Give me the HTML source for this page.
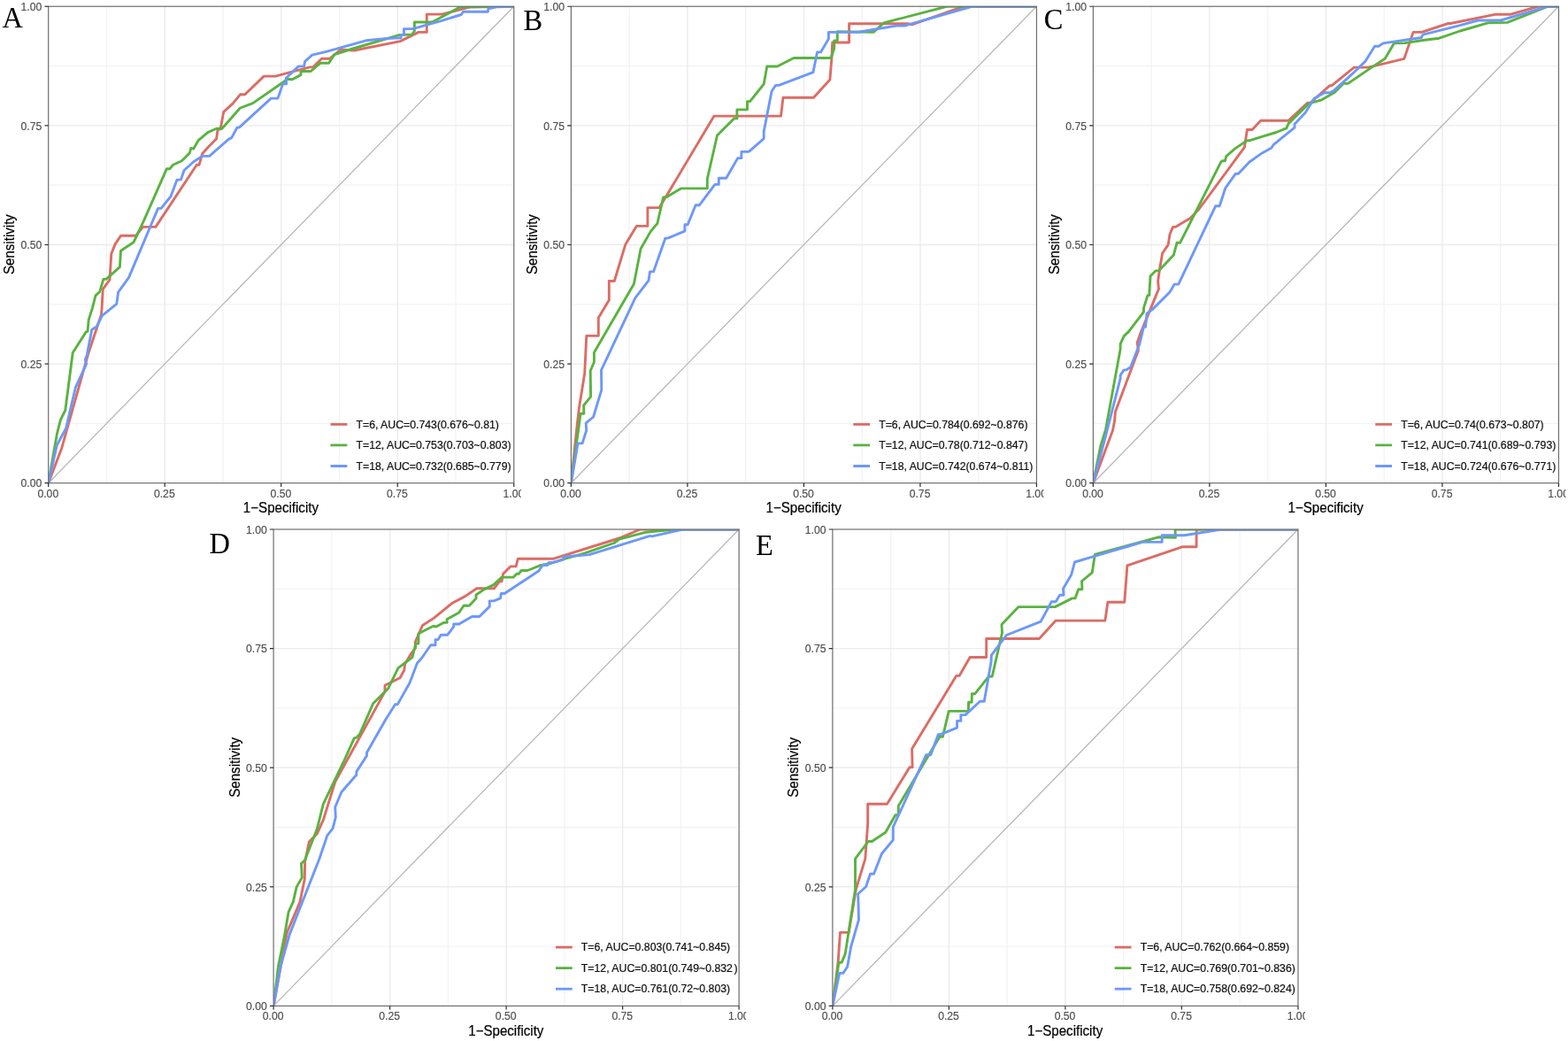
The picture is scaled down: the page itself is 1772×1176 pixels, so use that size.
<!DOCTYPE html>
<html><head><meta charset="utf-8"><title>ROC</title>
<style>
html,body{margin:0;padding:0;background:#fff;}
svg{display:block;}
.tk{font-family:"Liberation Sans",Arial,sans-serif;font-size:12.2px;fill:#4D4D4D;stroke:#4D4D4D;stroke-width:0.15px;}
.tt{font-family:"Liberation Sans",Arial,sans-serif;font-size:15.1px;fill:#000;stroke:#000;stroke-width:0.2px;}
.lg{font-family:"Liberation Sans",Arial,sans-serif;font-size:12.3px;fill:#111;stroke:#111;stroke-width:0.22px;}
.lt{font-family:"Liberation Serif","Times New Roman",serif;font-size:33.5px;fill:#000;}
</style></head><body>
<svg width="1772" height="1176" viewBox="0 0 1772 1176">
<rect width="1772" height="1176" fill="#fff"/>

<defs>
<clipPath id="cA"><rect x="-5.3" y="-2.75" width="594.05" height="588.45"/></clipPath>
<clipPath id="pA"><rect x="54.7" y="7.25" width="526.05" height="538.45"/></clipPath>
<clipPath id="cB"><rect x="585.4" y="-2.75" width="594.05" height="588.45"/></clipPath>
<clipPath id="pB"><rect x="645.4" y="7.25" width="526.05" height="538.45"/></clipPath>
<clipPath id="cC"><rect x="1175.4" y="-2.75" width="594.05" height="588.45"/></clipPath>
<clipPath id="pC"><rect x="1235.4" y="7.25" width="526.05" height="538.45"/></clipPath>
<clipPath id="cD"><rect x="249.1" y="588" width="594.05" height="588.4"/></clipPath>
<clipPath id="pD"><rect x="309.1" y="598" width="526.05" height="538.4"/></clipPath>
<clipPath id="cE"><rect x="880.9" y="588" width="594.05" height="588.4"/></clipPath>
<clipPath id="pE"><rect x="940.9" y="598" width="526.05" height="538.4"/></clipPath>
</defs>
<g clip-path="url(#cA)">
<line x1="120.46" y1="7.25" x2="120.46" y2="545.7" stroke="#F3F3F3" stroke-width="1.3"/>
<line x1="54.7" y1="478.39" x2="580.75" y2="478.39" stroke="#F3F3F3" stroke-width="1.3"/>
<line x1="251.97" y1="7.25" x2="251.97" y2="545.7" stroke="#F3F3F3" stroke-width="1.3"/>
<line x1="54.7" y1="343.78" x2="580.75" y2="343.78" stroke="#F3F3F3" stroke-width="1.3"/>
<line x1="383.48" y1="7.25" x2="383.48" y2="545.7" stroke="#F3F3F3" stroke-width="1.3"/>
<line x1="54.7" y1="209.17" x2="580.75" y2="209.17" stroke="#F3F3F3" stroke-width="1.3"/>
<line x1="514.99" y1="7.25" x2="514.99" y2="545.7" stroke="#F3F3F3" stroke-width="1.3"/>
<line x1="54.7" y1="74.56" x2="580.75" y2="74.56" stroke="#F3F3F3" stroke-width="1.3"/>
<line x1="186.21" y1="7.25" x2="186.21" y2="545.7" stroke="#EBEBEB" stroke-width="1.4"/>
<line x1="54.7" y1="411.09" x2="580.75" y2="411.09" stroke="#EBEBEB" stroke-width="1.4"/>
<line x1="317.72" y1="7.25" x2="317.72" y2="545.7" stroke="#EBEBEB" stroke-width="1.4"/>
<line x1="54.7" y1="276.48" x2="580.75" y2="276.48" stroke="#EBEBEB" stroke-width="1.4"/>
<line x1="449.24" y1="7.25" x2="449.24" y2="545.7" stroke="#EBEBEB" stroke-width="1.4"/>
<line x1="54.7" y1="141.86" x2="580.75" y2="141.86" stroke="#EBEBEB" stroke-width="1.4"/>
<line x1="54.7" y1="545.7" x2="580.75" y2="7.25" stroke="#B8B8B8" stroke-width="1.3"/>
<g clip-path="url(#pA)" fill="none" stroke-width="2.9" stroke-linejoin="round" stroke-linecap="butt">
<path d="M54.7 545.7 L69.7 506.4 L99.6 400 L114.5 355.2 L115.1 348.1 L116.3 326.7 L124 316 L125.8 286.8 L130 276.1 L136.5 266.3 L153.4 266.3 L161.6 256.4 L175.9 256.4 L222.3 186.3 L225 186.3 L228.6 173.75 L235.7 165.7 L244.6 156.8 L246.1 146.1 L249.1 146.1 L252.7 126.4 L263.4 116.6 L271.4 106.8 L276.8 106.8 L298.2 86.1 L311.4 86.1 L328.8 81.3 L350.2 75.9 L353.8 75.9 L363.5 66.2 L372.7 66.2 L384.9 56 L400.2 57 L452.3 46.6 L473 36.4 L482.3 36.4 L482.3 16.1 L499.3 16.1 L532.3 7.7 L580.75 7.25" stroke="#DC6C64"/>
<path d="M54.7 545.7 L64.3 490.7 L68.4 474.4 L73.8 463.5 L82.2 398.5 L97.3 374.9 L99 374.3 L100.2 361.2 L104.4 348.1 L108 333.8 L112.7 329.6 L116.9 315.4 L119.9 315.4 L135.4 301.7 L136.5 283.2 L150.9 273.75 L161.6 251.4 L188.4 190.7 L192 190.7 L195.5 186.25 L205.4 181.8 L214.3 172.9 L215.7 167.5 L218.75 168 L224.1 158.6 L234.8 149.6 L244.6 145.2 L250.9 145.2 L271.4 122 L285.7 116.6 L321.6 91.7 L325.2 89.2 L330.3 89.7 L340 84.6 L340 80.5 L351.2 80.5 L361.9 71.3 L371.6 71.3 L377.8 61.6 L397.1 55.5 L451.9 39.4 L465.4 39 L468.4 35 L468.4 25 L488.3 25 L519.6 8.1 L580.75 7.25" stroke="#59B340"/>
<path d="M54.7 545.7 L64.3 503 L74.5 484 L85.4 437.7 L97.65 411.1 L96.3 406.3 L98.3 400.9 L103.8 372.5 L109.2 368.9 L115.7 356.4 L131.8 343.3 L133.6 330.2 L145.5 313.6 L178.6 235.4 L182.1 235.4 L192.9 222 L200 203.2 L204.5 202.9 L208 192.5 L218.75 182.7 L228.6 176.4 L236.6 176.4 L258.9 156.8 L261.6 155.9 L267.9 144.3 L270.5 143.9 L306.3 111.1 L314 111.1 L319.6 94.8 L323.7 94.8 L323.2 88.2 L337.4 74.9 L343.6 74.9 L344.6 69.3 L352.8 62.1 L369.6 58.1 L413.5 45.8 L440 43.2 L453.1 42.8 L453.1 39.4 L456.5 39.4 L456.5 32.6 L466.2 32.6 L499.3 23.3 L521.3 16.5 L523.4 13.2 L551.3 13.2 L551.8 9.8 L562.8 7.7 L580.75 7.25" stroke="#6D98FA"/>
</g>
<rect x="54.7" y="7.25" width="526.05" height="538.45" fill="none" stroke="#6E6E6E" stroke-width="1.2"/>
<line x1="50.5" y1="545.7" x2="54.7" y2="545.7" stroke="#2B2B2B" stroke-width="1.2"/>
<line x1="54.7" y1="545.7" x2="54.7" y2="549.9" stroke="#2B2B2B" stroke-width="1.2"/>
<line x1="50.5" y1="411.09" x2="54.7" y2="411.09" stroke="#2B2B2B" stroke-width="1.2"/>
<line x1="186.21" y1="545.7" x2="186.21" y2="549.9" stroke="#2B2B2B" stroke-width="1.2"/>
<line x1="50.5" y1="276.48" x2="54.7" y2="276.48" stroke="#2B2B2B" stroke-width="1.2"/>
<line x1="317.72" y1="545.7" x2="317.72" y2="549.9" stroke="#2B2B2B" stroke-width="1.2"/>
<line x1="50.5" y1="141.86" x2="54.7" y2="141.86" stroke="#2B2B2B" stroke-width="1.2"/>
<line x1="449.24" y1="545.7" x2="449.24" y2="549.9" stroke="#2B2B2B" stroke-width="1.2"/>
<line x1="50.5" y1="7.25" x2="54.7" y2="7.25" stroke="#2B2B2B" stroke-width="1.2"/>
<line x1="580.75" y1="545.7" x2="580.75" y2="549.9" stroke="#2B2B2B" stroke-width="1.2"/>
<text class="tk" transform="translate(47.3 550.4) scale(1 1.06)" text-anchor="end">0.00</text>
<text class="tk" transform="translate(54.3 561.5) scale(1 1.06)" text-anchor="middle">0.00</text>
<text class="tk" transform="translate(47.3 415.79) scale(1 1.06)" text-anchor="end">0.25</text>
<text class="tk" transform="translate(185.81 561.5) scale(1 1.06)" text-anchor="middle">0.25</text>
<text class="tk" transform="translate(47.3 281.18) scale(1 1.06)" text-anchor="end">0.50</text>
<text class="tk" transform="translate(317.32 561.5) scale(1 1.06)" text-anchor="middle">0.50</text>
<text class="tk" transform="translate(47.3 146.56) scale(1 1.06)" text-anchor="end">0.75</text>
<text class="tk" transform="translate(448.84 561.5) scale(1 1.06)" text-anchor="middle">0.75</text>
<text class="tk" transform="translate(47.3 11.95) scale(1 1.06)" text-anchor="end">1.00</text>
<text class="tk" transform="translate(580.35 561.5) scale(1 1.06)" text-anchor="middle">1.00</text>
<text class="tt" transform="translate(317.42 579) scale(1 1.04)" text-anchor="middle">1−Specificity</text>
<text class="tt" transform="translate(16.1 276.08) rotate(-90) scale(1 1.04)" text-anchor="middle">Sensitivity</text>
<line x1="373.55" y1="479.4" x2="392.35" y2="479.4" stroke="#DC6C64" stroke-width="2.8"/>
<text class="lg" transform="translate(402.45 483.6) scale(1 1.04)">T=6, AUC=0.743(0.676~0.81)</text>
<line x1="373.55" y1="502.9" x2="392.35" y2="502.9" stroke="#59B340" stroke-width="2.8"/>
<text class="lg" transform="translate(402.45 507.1) scale(1 1.04)">T=12, AUC=0.753(0.703~0.803)</text>
<line x1="373.55" y1="526.5" x2="392.35" y2="526.5" stroke="#6D98FA" stroke-width="2.8"/>
<text class="lg" transform="translate(402.45 530.7) scale(1 1.04)">T=18, AUC=0.732(0.685~0.779)</text>
</g>
<text class="lt" transform="translate(2.4 31.3) scale(0.97 1.035)">A</text>
<g clip-path="url(#cB)">
<line x1="711.16" y1="7.25" x2="711.16" y2="545.7" stroke="#F3F3F3" stroke-width="1.3"/>
<line x1="645.4" y1="478.39" x2="1171.45" y2="478.39" stroke="#F3F3F3" stroke-width="1.3"/>
<line x1="842.67" y1="7.25" x2="842.67" y2="545.7" stroke="#F3F3F3" stroke-width="1.3"/>
<line x1="645.4" y1="343.78" x2="1171.45" y2="343.78" stroke="#F3F3F3" stroke-width="1.3"/>
<line x1="974.18" y1="7.25" x2="974.18" y2="545.7" stroke="#F3F3F3" stroke-width="1.3"/>
<line x1="645.4" y1="209.17" x2="1171.45" y2="209.17" stroke="#F3F3F3" stroke-width="1.3"/>
<line x1="1105.69" y1="7.25" x2="1105.69" y2="545.7" stroke="#F3F3F3" stroke-width="1.3"/>
<line x1="645.4" y1="74.56" x2="1171.45" y2="74.56" stroke="#F3F3F3" stroke-width="1.3"/>
<line x1="776.91" y1="7.25" x2="776.91" y2="545.7" stroke="#EBEBEB" stroke-width="1.4"/>
<line x1="645.4" y1="411.09" x2="1171.45" y2="411.09" stroke="#EBEBEB" stroke-width="1.4"/>
<line x1="908.42" y1="7.25" x2="908.42" y2="545.7" stroke="#EBEBEB" stroke-width="1.4"/>
<line x1="645.4" y1="276.48" x2="1171.45" y2="276.48" stroke="#EBEBEB" stroke-width="1.4"/>
<line x1="1039.94" y1="7.25" x2="1039.94" y2="545.7" stroke="#EBEBEB" stroke-width="1.4"/>
<line x1="645.4" y1="141.86" x2="1171.45" y2="141.86" stroke="#EBEBEB" stroke-width="1.4"/>
<line x1="645.4" y1="545.7" x2="1171.45" y2="7.25" stroke="#B8B8B8" stroke-width="1.3"/>
<g clip-path="url(#pB)" fill="none" stroke-width="2.9" stroke-linejoin="round" stroke-linecap="butt">
<path d="M645.4 545.7 L652.2 480.2 L654.5 460.3 L660.7 422 L662.8 379.4 L676.3 379.4 L676.3 358.9 L688.3 339 L688.3 317.5 L694.3 317.5 L706.9 275.9 L719.3 255.4 L731.9 255.4 L731.9 234.6 L745.2 234.6 L807 131.1 L882.5 131.1 L885 110.2 L919.5 110.2 L937.9 90 L940 64.6 L940.7 48 L959.6 48 L959.6 26.8 L1025.8 26.8 L1031.2 27.7 L1089 7.25 L1171.45 7.25" stroke="#DC6C64"/>
<path d="M645.4 545.7 L656.1 467.2 L659.9 467.2 L659.6 458 L667.6 448.1 L667.2 419 L671.4 409 L671.4 398.3 L716.4 320.8 L724.1 281 L735.2 261.6 L742.9 252.3 L749.6 222.9 L754 222.2 L769.5 212.9 L799.3 212.9 L799.3 202.1 L810.5 153 L829.6 133.9 L832.9 133.9 L832.9 123.9 L844.5 123.9 L844.5 114.6 L847.5 114.6 L863.2 95 L866.8 75 L878.4 75 L897.1 65.5 L939.1 65.5 L942.7 54.8 L942.7 45.9 L946.3 45.9 L946.3 35.6 L987.4 36.3 L998.7 25.9 L1070 7.25 L1171.45 7.25" stroke="#59B340"/>
<path d="M645.4 545.7 L653 500.9 L658.1 500.9 L662.7 486.3 L662.2 477.9 L670.6 471 L679.8 440.4 L679.5 418.2 L718 336.3 L733 316.9 L734.5 306.9 L738.5 306.9 L751.8 269.3 L755.1 268.9 L773.9 261.1 L773.9 253.8 L777.2 253.8 L786.1 231.7 L790.5 231.7 L807.9 208.4 L812.3 208.4 L812.3 201.3 L820.7 201.3 L833.75 178.6 L837.9 178.6 L837.9 171.4 L846.25 171.4 L863.2 156.6 L863.2 148.6 L872.1 103 L876.6 96.4 L880.2 96.4 L918.9 81.6 L923.6 58.9 L927.5 58.9 L936.4 44.1 L936.4 36.4 L970.7 36.3 L987.9 33.2 L1013.1 29.1 L1022.2 29.1 L1098.5 7.25 L1171.45 7.25" stroke="#6D98FA"/>
</g>
<rect x="645.4" y="7.25" width="526.05" height="538.45" fill="none" stroke="#6E6E6E" stroke-width="1.2"/>
<line x1="641.2" y1="545.7" x2="645.4" y2="545.7" stroke="#2B2B2B" stroke-width="1.2"/>
<line x1="645.4" y1="545.7" x2="645.4" y2="549.9" stroke="#2B2B2B" stroke-width="1.2"/>
<line x1="641.2" y1="411.09" x2="645.4" y2="411.09" stroke="#2B2B2B" stroke-width="1.2"/>
<line x1="776.91" y1="545.7" x2="776.91" y2="549.9" stroke="#2B2B2B" stroke-width="1.2"/>
<line x1="641.2" y1="276.48" x2="645.4" y2="276.48" stroke="#2B2B2B" stroke-width="1.2"/>
<line x1="908.42" y1="545.7" x2="908.42" y2="549.9" stroke="#2B2B2B" stroke-width="1.2"/>
<line x1="641.2" y1="141.86" x2="645.4" y2="141.86" stroke="#2B2B2B" stroke-width="1.2"/>
<line x1="1039.94" y1="545.7" x2="1039.94" y2="549.9" stroke="#2B2B2B" stroke-width="1.2"/>
<line x1="641.2" y1="7.25" x2="645.4" y2="7.25" stroke="#2B2B2B" stroke-width="1.2"/>
<line x1="1171.45" y1="545.7" x2="1171.45" y2="549.9" stroke="#2B2B2B" stroke-width="1.2"/>
<text class="tk" transform="translate(638 550.4) scale(1 1.06)" text-anchor="end">0.00</text>
<text class="tk" transform="translate(645 561.5) scale(1 1.06)" text-anchor="middle">0.00</text>
<text class="tk" transform="translate(638 415.79) scale(1 1.06)" text-anchor="end">0.25</text>
<text class="tk" transform="translate(776.51 561.5) scale(1 1.06)" text-anchor="middle">0.25</text>
<text class="tk" transform="translate(638 281.18) scale(1 1.06)" text-anchor="end">0.50</text>
<text class="tk" transform="translate(908.02 561.5) scale(1 1.06)" text-anchor="middle">0.50</text>
<text class="tk" transform="translate(638 146.56) scale(1 1.06)" text-anchor="end">0.75</text>
<text class="tk" transform="translate(1039.54 561.5) scale(1 1.06)" text-anchor="middle">0.75</text>
<text class="tk" transform="translate(638 11.95) scale(1 1.06)" text-anchor="end">1.00</text>
<text class="tk" transform="translate(1171.05 561.5) scale(1 1.06)" text-anchor="middle">1.00</text>
<text class="tt" transform="translate(908.12 579) scale(1 1.04)" text-anchor="middle">1−Specificity</text>
<text class="tt" transform="translate(606.8 276.08) rotate(-90) scale(1 1.04)" text-anchor="middle">Sensitivity</text>
<line x1="964.25" y1="479.4" x2="983.05" y2="479.4" stroke="#DC6C64" stroke-width="2.8"/>
<text class="lg" transform="translate(993.15 483.6) scale(1 1.04)">T=6, AUC=0.784(0.692~0.876)</text>
<line x1="964.25" y1="502.9" x2="983.05" y2="502.9" stroke="#59B340" stroke-width="2.8"/>
<text class="lg" transform="translate(993.15 507.1) scale(1 1.04)">T=12, AUC=0.78(0.712~0.847)</text>
<line x1="964.25" y1="526.5" x2="983.05" y2="526.5" stroke="#6D98FA" stroke-width="2.8"/>
<text class="lg" transform="translate(993.15 530.7) scale(1 1.04)">T=18, AUC=0.742(0.674~0.811)</text>
</g>
<text class="lt" transform="translate(591.4 33.6) scale(0.97 1.035)">B</text>
<g clip-path="url(#cC)">
<line x1="1301.16" y1="7.25" x2="1301.16" y2="545.7" stroke="#F3F3F3" stroke-width="1.3"/>
<line x1="1235.4" y1="478.39" x2="1761.45" y2="478.39" stroke="#F3F3F3" stroke-width="1.3"/>
<line x1="1432.67" y1="7.25" x2="1432.67" y2="545.7" stroke="#F3F3F3" stroke-width="1.3"/>
<line x1="1235.4" y1="343.78" x2="1761.45" y2="343.78" stroke="#F3F3F3" stroke-width="1.3"/>
<line x1="1564.18" y1="7.25" x2="1564.18" y2="545.7" stroke="#F3F3F3" stroke-width="1.3"/>
<line x1="1235.4" y1="209.17" x2="1761.45" y2="209.17" stroke="#F3F3F3" stroke-width="1.3"/>
<line x1="1695.69" y1="7.25" x2="1695.69" y2="545.7" stroke="#F3F3F3" stroke-width="1.3"/>
<line x1="1235.4" y1="74.56" x2="1761.45" y2="74.56" stroke="#F3F3F3" stroke-width="1.3"/>
<line x1="1366.91" y1="7.25" x2="1366.91" y2="545.7" stroke="#EBEBEB" stroke-width="1.4"/>
<line x1="1235.4" y1="411.09" x2="1761.45" y2="411.09" stroke="#EBEBEB" stroke-width="1.4"/>
<line x1="1498.43" y1="7.25" x2="1498.43" y2="545.7" stroke="#EBEBEB" stroke-width="1.4"/>
<line x1="1235.4" y1="276.48" x2="1761.45" y2="276.48" stroke="#EBEBEB" stroke-width="1.4"/>
<line x1="1629.94" y1="7.25" x2="1629.94" y2="545.7" stroke="#EBEBEB" stroke-width="1.4"/>
<line x1="1235.4" y1="141.86" x2="1761.45" y2="141.86" stroke="#EBEBEB" stroke-width="1.4"/>
<line x1="1235.4" y1="545.7" x2="1761.45" y2="7.25" stroke="#B8B8B8" stroke-width="1.3"/>
<g clip-path="url(#pC)" fill="none" stroke-width="2.9" stroke-linejoin="round" stroke-linecap="butt">
<path d="M1235.4 545.7 L1257.5 486.2 L1259.6 475.4 L1260.4 465.3 L1286.4 395.9 L1285.2 387 L1288.9 376.4 L1309.5 326.4 L1308.6 317.5 L1310.4 305 L1313.6 286.25 L1320.2 276.4 L1322 264.8 L1325.5 256.4 L1328.2 256.4 L1345.2 246.4 L1355 236.25 L1406.4 166.4 L1409.4 146.5 L1415.1 146.5 L1424.7 136.2 L1456.1 136.2 L1477.5 116.3 L1480.6 116.3 L1502.8 96.7 L1505.1 96.7 L1530.3 76.1 L1545.8 76.1 L1563.1 72.1 L1586.9 66.3 L1597.1 36.4 L1606.7 36.4 L1636.6 26.5 L1639.3 26.5 L1690.6 16.2 L1707.5 16.2 L1738 7.25 L1761.45 7.25" stroke="#DC6C64"/>
<path d="M1235.4 545.7 L1243.7 504.3 L1249.5 485.5 L1266.1 394.5 L1266.1 388.7 L1270.2 379.6 L1275.5 374.6 L1292.5 352.3 L1292.5 347.9 L1297 333.6 L1298.75 333.6 L1300 312.1 L1305.9 305.9 L1309.5 305.9 L1326.4 288 L1330 274.3 L1333.6 274.3 L1380 182.7 L1381.1 181.7 L1384.5 181.7 L1385.7 176.6 L1395.7 167.9 L1409.4 158.7 L1412.5 158.7 L1427 154.1 L1442.3 149.5 L1453.8 144.9 L1456.1 139.6 L1479.1 116.9 L1493.6 112.8 L1508.1 104.4 L1518.1 94.4 L1523.4 94.4 L1542 81.6 L1551.6 75.1 L1565.2 66.3 L1575.4 48.9 L1587.6 48.6 L1608 45.5 L1626.4 43.2 L1650 35 L1682.5 25.7 L1703.5 25.4 L1749.5 7.25 L1761.45 7.25" stroke="#59B340"/>
<path d="M1235.4 545.7 L1250.2 489.9 L1266.1 427.7 L1266.1 424.1 L1269.8 418.3 L1272.6 417.9 L1277.7 414.7 L1287.8 388.7 L1292.5 369.3 L1294.6 369.3 L1296.1 354.1 L1302.3 349.6 L1322 330 L1327.3 321.1 L1331.8 321.1 L1373.75 232.7 L1378.2 232.7 L1384.9 212.3 L1396.4 196.2 L1399.5 196.2 L1411.7 183.2 L1426.3 172.9 L1437 167.1 L1439.3 163.3 L1463 144.2 L1463 140.3 L1475.2 127.3 L1485.2 111.3 L1496.7 104.7 L1503.5 104.7 L1508.1 101.6 L1528 83.7 L1540 72.1 L1543.1 69 L1553.6 52.3 L1558 52.3 L1563.1 48.9 L1606.3 42.5 L1608 39.1 L1650 28.7 L1670.3 23 L1696 23 L1749 7.25 L1761.45 7.25" stroke="#6D98FA"/>
</g>
<rect x="1235.4" y="7.25" width="526.05" height="538.45" fill="none" stroke="#6E6E6E" stroke-width="1.2"/>
<line x1="1231.2" y1="545.7" x2="1235.4" y2="545.7" stroke="#2B2B2B" stroke-width="1.2"/>
<line x1="1235.4" y1="545.7" x2="1235.4" y2="549.9" stroke="#2B2B2B" stroke-width="1.2"/>
<line x1="1231.2" y1="411.09" x2="1235.4" y2="411.09" stroke="#2B2B2B" stroke-width="1.2"/>
<line x1="1366.91" y1="545.7" x2="1366.91" y2="549.9" stroke="#2B2B2B" stroke-width="1.2"/>
<line x1="1231.2" y1="276.48" x2="1235.4" y2="276.48" stroke="#2B2B2B" stroke-width="1.2"/>
<line x1="1498.43" y1="545.7" x2="1498.43" y2="549.9" stroke="#2B2B2B" stroke-width="1.2"/>
<line x1="1231.2" y1="141.86" x2="1235.4" y2="141.86" stroke="#2B2B2B" stroke-width="1.2"/>
<line x1="1629.94" y1="545.7" x2="1629.94" y2="549.9" stroke="#2B2B2B" stroke-width="1.2"/>
<line x1="1231.2" y1="7.25" x2="1235.4" y2="7.25" stroke="#2B2B2B" stroke-width="1.2"/>
<line x1="1761.45" y1="545.7" x2="1761.45" y2="549.9" stroke="#2B2B2B" stroke-width="1.2"/>
<text class="tk" transform="translate(1228 550.4) scale(1 1.06)" text-anchor="end">0.00</text>
<text class="tk" transform="translate(1235 561.5) scale(1 1.06)" text-anchor="middle">0.00</text>
<text class="tk" transform="translate(1228 415.79) scale(1 1.06)" text-anchor="end">0.25</text>
<text class="tk" transform="translate(1366.51 561.5) scale(1 1.06)" text-anchor="middle">0.25</text>
<text class="tk" transform="translate(1228 281.18) scale(1 1.06)" text-anchor="end">0.50</text>
<text class="tk" transform="translate(1498.03 561.5) scale(1 1.06)" text-anchor="middle">0.50</text>
<text class="tk" transform="translate(1228 146.56) scale(1 1.06)" text-anchor="end">0.75</text>
<text class="tk" transform="translate(1629.54 561.5) scale(1 1.06)" text-anchor="middle">0.75</text>
<text class="tk" transform="translate(1228 11.95) scale(1 1.06)" text-anchor="end">1.00</text>
<text class="tk" transform="translate(1761.05 561.5) scale(1 1.06)" text-anchor="middle">1.00</text>
<text class="tt" transform="translate(1498.13 579) scale(1 1.04)" text-anchor="middle">1−Specificity</text>
<text class="tt" transform="translate(1196.8 276.08) rotate(-90) scale(1 1.04)" text-anchor="middle">Sensitivity</text>
<line x1="1554.25" y1="479.4" x2="1573.05" y2="479.4" stroke="#DC6C64" stroke-width="2.8"/>
<text class="lg" transform="translate(1583.15 483.6) scale(1 1.04)">T=6, AUC=0.74(0.673~0.807)</text>
<line x1="1554.25" y1="502.9" x2="1573.05" y2="502.9" stroke="#59B340" stroke-width="2.8"/>
<text class="lg" transform="translate(1583.15 507.1) scale(1 1.04)">T=12, AUC=0.741(0.689~0.793)</text>
<line x1="1554.25" y1="526.5" x2="1573.05" y2="526.5" stroke="#6D98FA" stroke-width="2.8"/>
<text class="lg" transform="translate(1583.15 530.7) scale(1 1.04)">T=18, AUC=0.724(0.676~0.771)</text>
</g>
<text class="lt" transform="translate(1179.7 33.4) scale(0.97 1.035)">C</text>
<g clip-path="url(#cD)">
<line x1="374.86" y1="598" x2="374.86" y2="1136.4" stroke="#F3F3F3" stroke-width="1.3"/>
<line x1="309.1" y1="1069.1" x2="835.15" y2="1069.1" stroke="#F3F3F3" stroke-width="1.3"/>
<line x1="506.37" y1="598" x2="506.37" y2="1136.4" stroke="#F3F3F3" stroke-width="1.3"/>
<line x1="309.1" y1="934.5" x2="835.15" y2="934.5" stroke="#F3F3F3" stroke-width="1.3"/>
<line x1="637.88" y1="598" x2="637.88" y2="1136.4" stroke="#F3F3F3" stroke-width="1.3"/>
<line x1="309.1" y1="799.9" x2="835.15" y2="799.9" stroke="#F3F3F3" stroke-width="1.3"/>
<line x1="769.39" y1="598" x2="769.39" y2="1136.4" stroke="#F3F3F3" stroke-width="1.3"/>
<line x1="309.1" y1="665.3" x2="835.15" y2="665.3" stroke="#F3F3F3" stroke-width="1.3"/>
<line x1="440.61" y1="598" x2="440.61" y2="1136.4" stroke="#EBEBEB" stroke-width="1.4"/>
<line x1="309.1" y1="1001.8" x2="835.15" y2="1001.8" stroke="#EBEBEB" stroke-width="1.4"/>
<line x1="572.12" y1="598" x2="572.12" y2="1136.4" stroke="#EBEBEB" stroke-width="1.4"/>
<line x1="309.1" y1="867.2" x2="835.15" y2="867.2" stroke="#EBEBEB" stroke-width="1.4"/>
<line x1="703.64" y1="598" x2="703.64" y2="1136.4" stroke="#EBEBEB" stroke-width="1.4"/>
<line x1="309.1" y1="732.6" x2="835.15" y2="732.6" stroke="#EBEBEB" stroke-width="1.4"/>
<line x1="309.1" y1="1136.4" x2="835.15" y2="598" stroke="#B8B8B8" stroke-width="1.3"/>
<g clip-path="url(#pD)" fill="none" stroke-width="2.9" stroke-linejoin="round" stroke-linecap="butt">
<path d="M309.1 1136.4 L324.4 1053.3 L339 1018.9 L344.3 992.9 L344.6 973.8 L349.3 951.1 L358.2 942.1 L365.4 926.1 L378.75 883.2 L435 781.4 L435 774.3 L452.1 765.8 L456.8 757 L457.6 750.1 L464.5 738.6 L469.8 731.7 L469.1 725.6 L477.5 706.5 L490.5 698.1 L511.2 681.2 L525.7 673.6 L538.7 664.7 L558.6 664.7 L564.75 656.7 L567 656.7 L568.6 648.3 L577 639.9 L583.1 639.9 L585.4 631.2 L625.7 631.2 L699.8 608 L723.5 598 L835.15 598" stroke="#DC6C64"/>
<path d="M309.1 1136.4 L314.5 1091.6 L321.4 1057.9 L326 1030.4 L331.3 1018.9 L335.1 1002.1 L341.25 991.4 L340.5 975.3 L344.3 972.2 L358.2 936.8 L365.4 908.2 L388.6 860 L400.2 834.1 L402.9 833.2 L406.4 829.6 L421.6 794.8 L438.6 777.9 L450 754.7 L466 742.5 L469.8 727.1 L472.9 727.1 L472.9 715.7 L489.7 707.2 L492.8 708 L501.2 703.4 L505.1 703.4 L505.1 699.6 L518.8 691.9 L524.2 684 L530.3 684.3 L538 675.9 L538 672 L547.1 665.9 L557.9 660.6 L567 652.1 L580.1 652.1 L583.9 648.3 L586.2 648.3 L589.2 644.5 L596.1 644.5 L611.4 638.4 L621 636.8 L637.9 631.3 L660.8 624.9 L693.8 613.5 L699.8 609.2 L730.2 601.2 L762.6 598 L835.15 598" stroke="#59B340"/>
<path d="M309.1 1136.4 L317.1 1091.6 L327.5 1054.9 L361 970 L369.8 943.9 L376.1 935.9 L379.3 923.4 L378.75 911.8 L385.9 894.8 L402.9 875.2 L402.9 871.6 L414.5 853.75 L414.5 850.2 L435.9 812.7 L446.6 795.7 L449.3 795.7 L453 789.1 L463 771.5 L471.4 749.3 L476.7 743.2 L486.7 728.7 L492 728.7 L492 722.6 L495.1 722.6 L498.2 717.2 L505.8 717.2 L512.7 708 L512.7 705 L518.8 705 L533.4 696.5 L541.8 696.5 L553.3 685.1 L553.3 678.9 L557.9 678.9 L565.5 675.9 L566.3 670.5 L570.1 670.5 L574.7 667.5 L608.4 645.3 L613.4 638.4 L618.5 638.5 L620.2 635.5 L624.8 635.5 L636.7 632.1 L636.7 629.1 L645.6 628.3 L665.9 626.6 L734.5 605.4 L737 605.9 L771.6 598 L835.15 598" stroke="#6D98FA"/>
</g>
<rect x="309.1" y="598" width="526.05" height="538.4" fill="none" stroke="#6E6E6E" stroke-width="1.2"/>
<line x1="304.9" y1="1136.4" x2="309.1" y2="1136.4" stroke="#2B2B2B" stroke-width="1.2"/>
<line x1="309.1" y1="1136.4" x2="309.1" y2="1140.6" stroke="#2B2B2B" stroke-width="1.2"/>
<line x1="304.9" y1="1001.8" x2="309.1" y2="1001.8" stroke="#2B2B2B" stroke-width="1.2"/>
<line x1="440.61" y1="1136.4" x2="440.61" y2="1140.6" stroke="#2B2B2B" stroke-width="1.2"/>
<line x1="304.9" y1="867.2" x2="309.1" y2="867.2" stroke="#2B2B2B" stroke-width="1.2"/>
<line x1="572.12" y1="1136.4" x2="572.12" y2="1140.6" stroke="#2B2B2B" stroke-width="1.2"/>
<line x1="304.9" y1="732.6" x2="309.1" y2="732.6" stroke="#2B2B2B" stroke-width="1.2"/>
<line x1="703.64" y1="1136.4" x2="703.64" y2="1140.6" stroke="#2B2B2B" stroke-width="1.2"/>
<line x1="304.9" y1="598" x2="309.1" y2="598" stroke="#2B2B2B" stroke-width="1.2"/>
<line x1="835.15" y1="1136.4" x2="835.15" y2="1140.6" stroke="#2B2B2B" stroke-width="1.2"/>
<text class="tk" transform="translate(301.7 1141.1) scale(1 1.06)" text-anchor="end">0.00</text>
<text class="tk" transform="translate(308.7 1152.2) scale(1 1.06)" text-anchor="middle">0.00</text>
<text class="tk" transform="translate(301.7 1006.5) scale(1 1.06)" text-anchor="end">0.25</text>
<text class="tk" transform="translate(440.21 1152.2) scale(1 1.06)" text-anchor="middle">0.25</text>
<text class="tk" transform="translate(301.7 871.9) scale(1 1.06)" text-anchor="end">0.50</text>
<text class="tk" transform="translate(571.73 1152.2) scale(1 1.06)" text-anchor="middle">0.50</text>
<text class="tk" transform="translate(301.7 737.3) scale(1 1.06)" text-anchor="end">0.75</text>
<text class="tk" transform="translate(703.24 1152.2) scale(1 1.06)" text-anchor="middle">0.75</text>
<text class="tk" transform="translate(301.7 602.7) scale(1 1.06)" text-anchor="end">1.00</text>
<text class="tk" transform="translate(834.75 1152.2) scale(1 1.06)" text-anchor="middle">1.00</text>
<text class="tt" transform="translate(571.83 1169.7) scale(1 1.04)" text-anchor="middle">1−Specificity</text>
<text class="tt" transform="translate(270.5 866.8) rotate(-90) scale(1 1.04)" text-anchor="middle">Sensitivity</text>
<line x1="627.95" y1="1070.1" x2="646.75" y2="1070.1" stroke="#DC6C64" stroke-width="2.8"/>
<text class="lg" transform="translate(656.85 1074.3) scale(1 1.04)">T=6, AUC=0.803(0.741~0.845)</text>
<line x1="627.95" y1="1093.6" x2="646.75" y2="1093.6" stroke="#59B340" stroke-width="2.8"/>
<text class="lg" transform="translate(656.85 1097.8) scale(1 1.04)">T=12, AUC=0.801(0.749~0.832<tspan dx="1.5">)</tspan></text>
<line x1="627.95" y1="1117.2" x2="646.75" y2="1117.2" stroke="#6D98FA" stroke-width="2.8"/>
<text class="lg" transform="translate(656.85 1121.4) scale(1 1.04)">T=18, AUC=0.761(0.72~0.803)</text>
</g>
<text class="lt" transform="translate(236.4 625) scale(0.97 1.035)">D</text>
<g clip-path="url(#cE)">
<line x1="1006.66" y1="598" x2="1006.66" y2="1136.4" stroke="#F3F3F3" stroke-width="1.3"/>
<line x1="940.9" y1="1069.1" x2="1466.95" y2="1069.1" stroke="#F3F3F3" stroke-width="1.3"/>
<line x1="1138.17" y1="598" x2="1138.17" y2="1136.4" stroke="#F3F3F3" stroke-width="1.3"/>
<line x1="940.9" y1="934.5" x2="1466.95" y2="934.5" stroke="#F3F3F3" stroke-width="1.3"/>
<line x1="1269.68" y1="598" x2="1269.68" y2="1136.4" stroke="#F3F3F3" stroke-width="1.3"/>
<line x1="940.9" y1="799.9" x2="1466.95" y2="799.9" stroke="#F3F3F3" stroke-width="1.3"/>
<line x1="1401.19" y1="598" x2="1401.19" y2="1136.4" stroke="#F3F3F3" stroke-width="1.3"/>
<line x1="940.9" y1="665.3" x2="1466.95" y2="665.3" stroke="#F3F3F3" stroke-width="1.3"/>
<line x1="1072.41" y1="598" x2="1072.41" y2="1136.4" stroke="#EBEBEB" stroke-width="1.4"/>
<line x1="940.9" y1="1001.8" x2="1466.95" y2="1001.8" stroke="#EBEBEB" stroke-width="1.4"/>
<line x1="1203.92" y1="598" x2="1203.92" y2="1136.4" stroke="#EBEBEB" stroke-width="1.4"/>
<line x1="940.9" y1="867.2" x2="1466.95" y2="867.2" stroke="#EBEBEB" stroke-width="1.4"/>
<line x1="1335.44" y1="598" x2="1335.44" y2="1136.4" stroke="#EBEBEB" stroke-width="1.4"/>
<line x1="940.9" y1="732.6" x2="1466.95" y2="732.6" stroke="#EBEBEB" stroke-width="1.4"/>
<line x1="940.9" y1="1136.4" x2="1466.95" y2="598" stroke="#B8B8B8" stroke-width="1.3"/>
<g clip-path="url(#pE)" fill="none" stroke-width="2.9" stroke-linejoin="round" stroke-linecap="butt">
<path d="M940.9 1136.4 L947.1 1087.3 L949.5 1053.4 L959.2 1053.4 L967.3 1004.9 L977.8 970.2 L980.7 930.1 L980.7 908.3 L1002.5 908.3 L1028 866.8 L1031.1 866.8 L1030.6 845.9 L1080.7 763.4 L1084.1 763.4 L1096.2 742.5 L1114.7 742.5 L1114.7 721.5 L1174.5 721.5 L1193.1 701.1 L1248.9 701.1 L1251.9 680.2 L1270.8 680.2 L1273.9 638.9 L1335.9 617.8 L1352.1 617.8 L1352.1 598 L1466.95 598" stroke="#DC6C64"/>
<path d="M940.9 1136.4 L947.9 1087.3 L951.2 1087.3 L955.2 1077.6 L966.5 1004.9 L966.5 970.2 L981.3 950.5 L985.5 950.5 L1000.8 940.3 L1011.9 920.7 L1015.3 920.7 L1015.3 910.5 L1062 832.3 L1065.4 832.3 L1072.2 803.4 L1094.4 803.4 L1094.6 793.3 L1098.2 793.3 L1098.4 783.7 L1101.9 783.7 L1117.2 764.3 L1121.2 764.3 L1132.5 715 L1132 705.4 L1151.1 685.6 L1192.3 685.6 L1211.7 675.9 L1215 675.9 L1218.7 665.8 L1223 665.8 L1222.5 656.5 L1234.3 646.8 L1237.3 626.5 L1309.1 606.8 L1328.5 607.3 L1328 598 L1466.95 598" stroke="#59B340"/>
<path d="M940.9 1136.4 L948.7 1099.4 L952.8 1099.4 L957.6 1092.2 L961.7 1069.5 L970.5 1038.9 L969.7 1009.8 L978.6 1001.7 L983.5 987.2 L987.5 987.2 L996.4 964.5 L1009.3 948.8 L1009.3 934.3 L1046.7 852.7 L1051.8 852.7 L1060.3 829.7 L1062.9 829.7 L1081.6 822.1 L1081.6 814.4 L1085.85 814.4 L1085.85 807.6 L1091 807.6 L1107.5 792.3 L1112.3 792.3 L1120.1 747.4 L1120.4 740.1 L1137.4 717.5 L1176.2 702.1 L1188.3 679.8 L1193.1 679.8 L1197.7 672.2 L1202 672.2 L1201.5 664.95 L1210.6 649.6 L1214.5 635 L1230 630.4 L1291.2 612.4 L1313.2 612.4 L1313.2 604.8 L1338.3 604.8 L1380.6 598 L1466.95 598" stroke="#6D98FA"/>
</g>
<rect x="940.9" y="598" width="526.05" height="538.4" fill="none" stroke="#6E6E6E" stroke-width="1.2"/>
<line x1="936.7" y1="1136.4" x2="940.9" y2="1136.4" stroke="#2B2B2B" stroke-width="1.2"/>
<line x1="940.9" y1="1136.4" x2="940.9" y2="1140.6" stroke="#2B2B2B" stroke-width="1.2"/>
<line x1="936.7" y1="1001.8" x2="940.9" y2="1001.8" stroke="#2B2B2B" stroke-width="1.2"/>
<line x1="1072.41" y1="1136.4" x2="1072.41" y2="1140.6" stroke="#2B2B2B" stroke-width="1.2"/>
<line x1="936.7" y1="867.2" x2="940.9" y2="867.2" stroke="#2B2B2B" stroke-width="1.2"/>
<line x1="1203.92" y1="1136.4" x2="1203.92" y2="1140.6" stroke="#2B2B2B" stroke-width="1.2"/>
<line x1="936.7" y1="732.6" x2="940.9" y2="732.6" stroke="#2B2B2B" stroke-width="1.2"/>
<line x1="1335.44" y1="1136.4" x2="1335.44" y2="1140.6" stroke="#2B2B2B" stroke-width="1.2"/>
<line x1="936.7" y1="598" x2="940.9" y2="598" stroke="#2B2B2B" stroke-width="1.2"/>
<line x1="1466.95" y1="1136.4" x2="1466.95" y2="1140.6" stroke="#2B2B2B" stroke-width="1.2"/>
<text class="tk" transform="translate(933.5 1141.1) scale(1 1.06)" text-anchor="end">0.00</text>
<text class="tk" transform="translate(940.5 1152.2) scale(1 1.06)" text-anchor="middle">0.00</text>
<text class="tk" transform="translate(933.5 1006.5) scale(1 1.06)" text-anchor="end">0.25</text>
<text class="tk" transform="translate(1072.01 1152.2) scale(1 1.06)" text-anchor="middle">0.25</text>
<text class="tk" transform="translate(933.5 871.9) scale(1 1.06)" text-anchor="end">0.50</text>
<text class="tk" transform="translate(1203.52 1152.2) scale(1 1.06)" text-anchor="middle">0.50</text>
<text class="tk" transform="translate(933.5 737.3) scale(1 1.06)" text-anchor="end">0.75</text>
<text class="tk" transform="translate(1335.04 1152.2) scale(1 1.06)" text-anchor="middle">0.75</text>
<text class="tk" transform="translate(933.5 602.7) scale(1 1.06)" text-anchor="end">1.00</text>
<text class="tk" transform="translate(1466.55 1152.2) scale(1 1.06)" text-anchor="middle">1.00</text>
<text class="tt" transform="translate(1203.62 1169.7) scale(1 1.04)" text-anchor="middle">1−Specificity</text>
<text class="tt" transform="translate(902.3 866.8) rotate(-90) scale(1 1.04)" text-anchor="middle">Sensitivity</text>
<line x1="1259.75" y1="1070.1" x2="1278.55" y2="1070.1" stroke="#DC6C64" stroke-width="2.8"/>
<text class="lg" transform="translate(1288.65 1074.3) scale(1 1.04)">T=6, AUC=0.762(0.664~0.859)</text>
<line x1="1259.75" y1="1093.6" x2="1278.55" y2="1093.6" stroke="#59B340" stroke-width="2.8"/>
<text class="lg" transform="translate(1288.65 1097.8) scale(1 1.04)">T=12, AUC=0.769(0.701~0.836)</text>
<line x1="1259.75" y1="1117.2" x2="1278.55" y2="1117.2" stroke="#6D98FA" stroke-width="2.8"/>
<text class="lg" transform="translate(1288.65 1121.4) scale(1 1.04)">T=18, AUC=0.758(0.692~0.824)</text>
</g>
<text class="lt" transform="translate(853.9 627.2) scale(0.97 1.035)">E</text>
</svg>
</body></html>
